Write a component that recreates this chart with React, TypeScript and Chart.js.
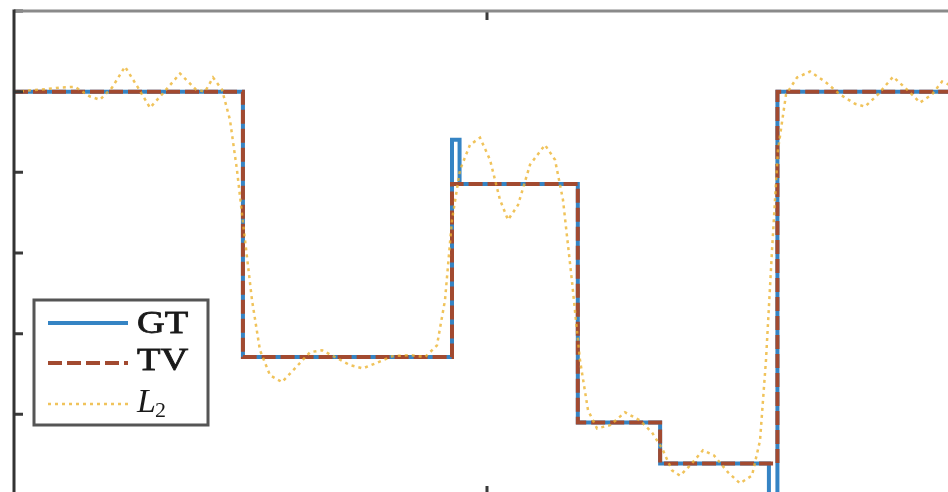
import React, { useEffect, useRef } from 'react';
import { Chart, registerables } from 'chart.js';
Chart.register(...registerables);

// sample index (0..1000) and amplitude values
const gtX = [0, 242, 242, 463, 463, 471, 471, 596, 596, 683, 683, 798, 798, 807, 807, 1000];
const gtY = [1, 1, 0.342, 0.342, 0.881, 0.881, 0.771, 0.771, 0.18, 0.18, 0.078, 0.078, -0.05, -0.05, 1, 1];

const tvX = [0, 242, 242, 463, 463, 596, 596, 683, 683, 807, 807, 1000];
const tvY = [1, 1, 0.342, 0.342, 0.771, 0.771, 0.18, 0.18, 0.078, 0.078, 1, 1];

const l2X = [0, 27.5, 48.6, 64.5, 80.3, 90.9, 103.6, 117.3, 131.1, 143.8, 156.4, 175.5, 192.4, 201.9, 210.4, 219.9,
  228.3, 235.7, 244.2, 251.6, 260, 270.6, 283.3, 297, 312.9, 325.6, 339.3, 355.2, 368.9, 384.8, 399.6, 418.6,
  434.5, 447.1, 455.6, 463, 471.5, 482, 492.6, 503.2, 513.7, 522.2, 532.8, 545.5, 561.3, 571.9, 580.3, 589.7,
  598.3, 606.8, 616.3, 630, 645.9, 661.7, 674.4, 685, 695.6, 704, 714.6, 728.3, 740, 754.8, 767.4, 780.1,
  788.6, 794.9, 801.3, 807.6, 816.1, 827.7, 841.4, 857.3, 873.2, 889, 899.6, 913.3, 929.2, 941.9, 957.7, 970.4,
  981, 1000];
const l2Y = [1.0, 1.005, 1.01, 1.012, 0.988, 0.98, 1.01, 1.062, 1.01, 0.96, 0.993, 1.045, 1.005, 1.0, 1.035, 1.005,
  0.93, 0.806, 0.632, 0.483, 0.359, 0.297, 0.28, 0.314, 0.354, 0.359, 0.342, 0.322, 0.314, 0.329, 0.344, 0.347,
  0.342, 0.371, 0.483, 0.682, 0.806, 0.868, 0.886, 0.831, 0.732, 0.682, 0.719, 0.819, 0.868, 0.831, 0.732, 0.533,
  0.334, 0.21, 0.165, 0.173, 0.205, 0.185, 0.155, 0.116, 0.061, 0.048, 0.073, 0.111, 0.098, 0.056, 0.029, 0.048,
  0.135, 0.334, 0.607, 0.856, 0.993, 1.035, 1.05, 1.025, 0.993, 0.97, 0.963, 0.993, 1.037, 1.01, 0.973, 0.993,
  1.025, 1.005];

const yTicks = [0, 0.2, 0.4, 0.6, 0.8, 1.0, 1.2];
const xTicks = [500];
const labels = ['GT', 'TV', 'L2'];

const toPts = (xs: number[], ys: number[]) => xs.map((x, i) => ({ x, y: ys[i] }));

const boxPlugin = {
  id: 'matlabBox',
  afterDatasetsDraw(chart: any) {
    const { ctx, chartArea: a, scales } = chart;
    ctx.save();
    ctx.lineCap = 'butt';
    // ticks
    ctx.strokeStyle = '#3a3a3a';
    ctx.lineWidth = 3;
    const tl = 9;
    yTicks.forEach((v) => {
      const y = scales.y.getPixelForValue(v);
      ctx.beginPath();
      ctx.moveTo(a.left, y); ctx.lineTo(a.left + tl, y);
      ctx.moveTo(a.right, y); ctx.lineTo(a.right - tl, y);
      ctx.stroke();
    });
    xTicks.forEach((v) => {
      const x = scales.x.getPixelForValue(v);
      ctx.beginPath();
      ctx.moveTo(x, a.top); ctx.lineTo(x, a.top + tl);
      ctx.moveTo(x, a.bottom); ctx.lineTo(x, a.bottom - tl);
      ctx.stroke();
    });
    // box
    ctx.lineWidth = 3;
    ctx.strokeStyle = '#8a8a8a';
    ctx.beginPath(); ctx.moveTo(a.left, a.top); ctx.lineTo(a.right, a.top); ctx.stroke();
    ctx.strokeStyle = '#333333';
    ctx.beginPath(); ctx.moveTo(a.left, a.top - 1.5); ctx.lineTo(a.left, a.bottom); ctx.stroke();
    ctx.beginPath(); ctx.moveTo(a.right, a.top); ctx.lineTo(a.right, a.bottom); ctx.lineTo(a.left, a.bottom); ctx.stroke();

    // legend
    const bx = a.left + 20, by = 300, bw = 174, bh = 125;
    ctx.fillStyle = '#ffffff';
    ctx.fillRect(bx, by, bw, bh);
    ctx.strokeStyle = '#555555';
    ctx.lineWidth = 3;
    ctx.strokeRect(bx, by, bw, bh);
    const rows = [323, 363, 404];
    const base = [333, 370, 412];
    chart.data.datasets.forEach((ds: any, i: number) => {
      ctx.save();
      ctx.strokeStyle = ds.borderColor;
      ctx.lineWidth = ds.borderWidth;
      ctx.setLineDash(ds.borderDash || []);
      ctx.beginPath();
      ctx.moveTo(bx + 14, rows[i]);
      ctx.lineTo(bx + 94, rows[i]);
      ctx.stroke();
      ctx.restore();
      ctx.fillStyle = '#1a1a1a';
      ctx.textBaseline = 'alphabetic';
      const tx = bx + 103;
      const lab = ds.label as string;
      if (lab === 'L2') {
        ctx.font = 'italic 34px "Liberation Serif"';
        ctx.fillText('L', tx, base[i]);
        const w = ctx.measureText('L').width;
        ctx.font = '22px "Liberation Serif"';
        ctx.fillText('2', tx + w - 1, base[i] + 5);
      } else {
        ctx.save();
        ctx.translate(tx, base[i]);
        ctx.scale(1.2, 1);
        ctx.font = '32px "Liberation Serif"';
        ctx.lineWidth = 0.8;
        ctx.strokeStyle = '#1a1a1a';
        ctx.fillText(lab, 0, 0);
        ctx.strokeText(lab, 0, 0);
        ctx.restore();
      }
    });
    ctx.restore();
  },
};

export default function App() {
  const ref = useRef<HTMLCanvasElement>(null);
  useEffect(() => {
    const chart = new Chart(ref.current!, {
      type: 'line',
      data: {
        datasets: [
          {
            label: labels[0],
            data: toPts(gtX, gtY),
            borderColor: '#3584c4',
            borderWidth: 4,
            pointRadius: 0,
            fill: false,
            tension: 0,
            order: 3,
          },
          {
            label: labels[1],
            data: toPts(tvX, tvY),
            borderColor: '#a24a30',
            borderWidth: 4,
            borderDash: [14, 5],
            pointRadius: 0,
            fill: false,
            tension: 0,
            order: 2,
          },
          {
            label: labels[2],
            data: toPts(l2X, l2Y),
            borderColor: 'rgba(236,180,50,0.8)',
            borderWidth: 2.5,
            borderDash: [3, 4],
            pointRadius: 0,
            fill: false,
            tension: 0,
            order: 1,
          },
        ],
      },
      options: {
        animation: false,
        responsive: false,
        devicePixelRatio: 1,
        layout: { padding: { left: 14, top: 11, right: 20, bottom: 25 } },
        plugins: { legend: { display: false }, tooltip: { enabled: false } },
        scales: {
          x: { type: 'linear', min: 0, max: 1000, display: false },
          y: { type: 'linear', min: 0, max: 1.2, display: false },
        },
      },
      plugins: [boxPlugin],
    });
    return () => chart.destroy();
  }, []);
  return (
    <div style={{ position: 'fixed', left: 0, top: 0, width: 948, height: 492, overflow: 'hidden', background: '#fff' }}>
      <canvas ref={ref} width={980} height={520} style={{ display: 'block' }} />
    </div>
  );
}
